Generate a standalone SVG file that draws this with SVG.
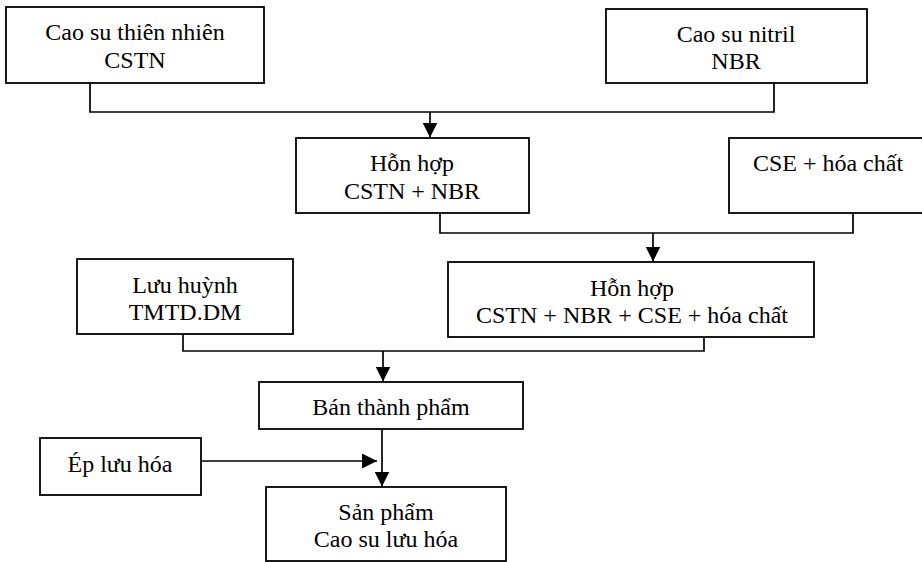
<svg xmlns="http://www.w3.org/2000/svg" width="922" height="562" viewBox="0 0 922 562">
<defs>
<style>
.box{fill:#fff;stroke:#000;stroke-width:1.8}
.t{font-family:'Liberation Serif','Times New Roman',Tinos,'DejaVu Serif',serif;font-size:24px;fill:#000;text-anchor:middle}
.c{fill:none;stroke:#000;stroke-width:1.7}
</style>
<marker id="ah" markerUnits="userSpaceOnUse" markerWidth="15" markerHeight="15" refX="15" refY="7.5" orient="auto">
<path d="M0,0 L15,7.5 L0,15 z" fill="#000"/>
</marker>
</defs>
<rect width="922" height="562" fill="#fff"/>
<g id="connectors">
<path class="c" d="M90,83 V112 H774 V83"/>
<path class="c" d="M430,112 V137.5" marker-end="url(#ah)"/>
<path class="c" d="M440,213 V233 H853 V213"/>
<path class="c" d="M653,233 V261.5" marker-end="url(#ah)"/>
<path class="c" d="M183,334 V351 H704 V337"/>
<path class="c" d="M383,351 V381.5" marker-end="url(#ah)"/>
<path class="c" d="M382,429 V486.5" marker-end="url(#ah)"/>
<path class="c" d="M201,461 H377" marker-end="url(#ah)"/>
</g>
<g id="n1"><rect class="box" x="6" y="7" width="258" height="76"/>
<text class="t" x="135" y="40">Cao su thiên nhiên</text><text class="t" x="135" y="68">CSTN</text></g>
<g id="n2"><rect class="box" x="606" y="9" width="261" height="74"/>
<text class="t" x="736" y="42">Cao su nitril</text><text class="t" x="736" y="69">NBR</text></g>
<g id="n3"><rect class="box" x="296" y="138" width="233" height="75"/>
<text class="t" x="412" y="171">Hỗn hợp</text><text class="t" x="412" y="199">CSTN + NBR</text></g>
<g id="n4"><rect class="box" x="729" y="138" width="200" height="75"/>
<text class="t" x="828" y="171">CSE + hóa chất</text></g>
<g id="n5"><rect class="box" x="448" y="262" width="366" height="75"/>
<text class="t" x="632" y="296">Hỗn hợp</text><text class="t" x="632" y="323">CSTN + NBR + CSE + hóa chất</text></g>
<g id="n6"><rect class="box" x="77" y="259" width="216" height="75"/>
<text class="t" x="185" y="293">Lưu huỳnh</text><text class="t" x="185" y="320">TMTD.DM</text></g>
<g id="n7"><rect class="box" x="259" y="382" width="264" height="47"/>
<text class="t" x="391" y="415">Bán thành phẩm</text></g>
<g id="n8"><rect class="box" x="40" y="438" width="161" height="57"/>
<text class="t" x="120" y="472">Ép lưu hóa</text></g>
<g id="n9"><rect class="box" x="266" y="487" width="240" height="74"/>
<text class="t" x="386" y="520">Sản phẩm</text><text class="t" x="386" y="547">Cao su lưu hóa</text></g>
</svg>
